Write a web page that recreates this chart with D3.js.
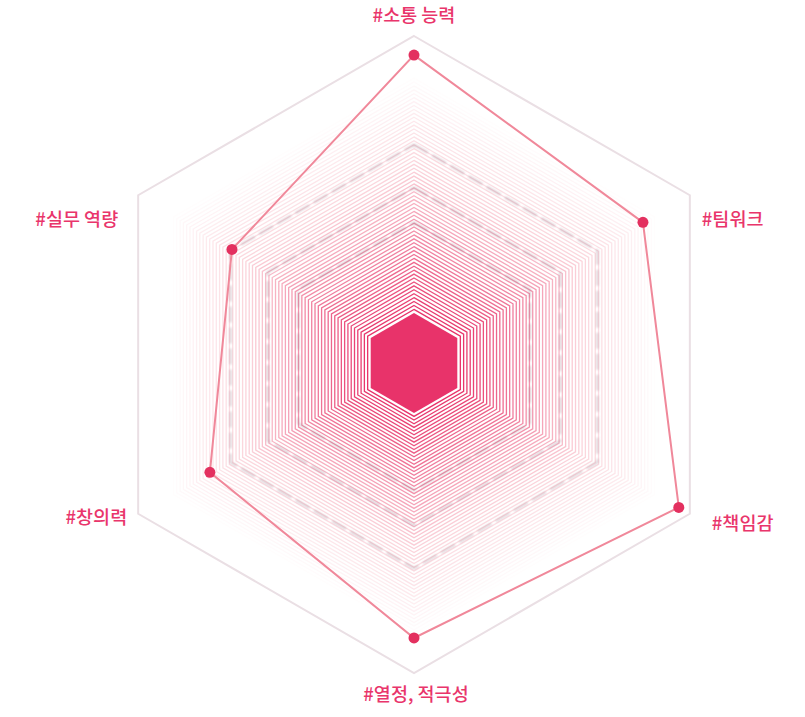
<!DOCTYPE html>
<html><head><meta charset="utf-8">
<script src="https://cdn.jsdelivr.net/npm/d3@7"></script>
<style>body{margin:0;background:#fff}svg{display:block}</style>
</head><body>
<script>
const categories = ["#소통 능력", "#팀워크", "#책임감", "#열정, 적극성", "#창의력", "#실무 역량"];
const values = [94, 83, 96, 89, 74, 66];
const maxValue = 100;
const gridLevels = d3.range(0, 60);           // concentric decorative rings
const shadowLevels = [42, 53, 66.5];          // faint grey shadow rings (value units)

const W = 805, H = 717, cx = 414, cy = 354.5, R = 318.5;
const svg = d3.select("body").append("svg").attr("width", W).attr("height", H);
const rScale = d3.scaleLinear().domain([0, maxValue]).range([0, R]);
const angle = d3.scaleLinear().domain([0, categories.length]).range([0, 2 * Math.PI]);
const pt = (i, r, oy = 0) => [cx + r * Math.sin(angle(i)), cy + oy - r * Math.cos(angle(i))];
const hexPath = (r, oy = 0) => d3.line()(d3.range(6).map(i => pt(i, r, oy))) + "Z";

const defs = svg.append("defs");
defs.append("filter").attr("id", "blur").append("feGaussianBlur").attr("stdDeviation", 1);

// outer frame
svg.append("path").attr("d", hexPath(R)).attr("fill", "none")
  .attr("stroke", "#eadfe4").attr("stroke-width", 2);

// concentric rings
const r0 = 53.5, step = 3.8;
const col = d3.interpolateRgb("#e8336a", "#f7aebb");
const ringShift = r => 8.5 * Math.max(0, 1 - (r - 50) / 268);
svg.append("g").selectAll("path").data(gridLevels).join("path")
  .attr("d", d => { const r = r0 + d * step; return hexPath(r, ringShift(r)); })
  .attr("fill", "none")
  .attr("stroke", d => col(Math.min(1, 1.6 * d / gridLevels.length)))
  .attr("stroke-opacity", d => Math.max(0, 1 - Math.pow(d / gridLevels.length, 1.5)))
  .attr("stroke-width", 1.3);

// shadow rings
svg.append("g").selectAll("path").data(shadowLevels).join("path")
  .attr("d", d => hexPath(rScale(d), 2))
  .attr("fill", "none").attr("stroke", "#9a7688").attr("stroke-opacity", 0.35)
  .attr("stroke-width", 2.2).attr("stroke-dasharray", "16 5").attr("filter", "url(#blur)");

// inner filled hexagon
svg.append("path").attr("d", hexPath(50, ringShift(50))).attr("fill", "#e8336a");

// data polygon
const dataPts = values.map((v, i) => pt(i, rScale(v)));
svg.append("path").attr("d", d3.line()(dataPts) + "Z").attr("fill", "none")
  .attr("stroke", "#f0889a").attr("stroke-width", 2);
svg.append("g").selectAll("circle").data(dataPts).join("circle")
  .attr("cx", d => d[0]).attr("cy", d => d[1]).attr("r", 5.5).attr("fill", "#e3305f");

// labels
const labelLayout = [
  {r: R + 21, dx: 0, dy: -1, anchor: "middle"},
  {r: R, dx: 12, dy: 23, anchor: "start"},
  {r: R, dx: 22, dy: 8, anchor: "start"},
  {r: R + 20, dx: 2, dy: 0, anchor: "middle"},
  {r: R, dx: -11, dy: 2, anchor: "end"},
  {r: R, dx: -20, dy: 23, anchor: "end"}
];
svg.append("g").selectAll("text").data(categories).join("text")
  .attr("x", (d, i) => pt(i, labelLayout[i].r)[0] + labelLayout[i].dx)
  .attr("y", (d, i) => pt(i, labelLayout[i].r)[1] + labelLayout[i].dy)
  .attr("text-anchor", (d, i) => labelLayout[i].anchor)
  .attr("dominant-baseline", "central")
  .attr("font-family", "'Noto Sans CJK KR', 'Noto Sans', sans-serif")
  .attr("font-size", 18.5).attr("font-weight", 500)
  .attr("fill", "#e9356b")
  .text(d => d);
</script>
</body></html>
